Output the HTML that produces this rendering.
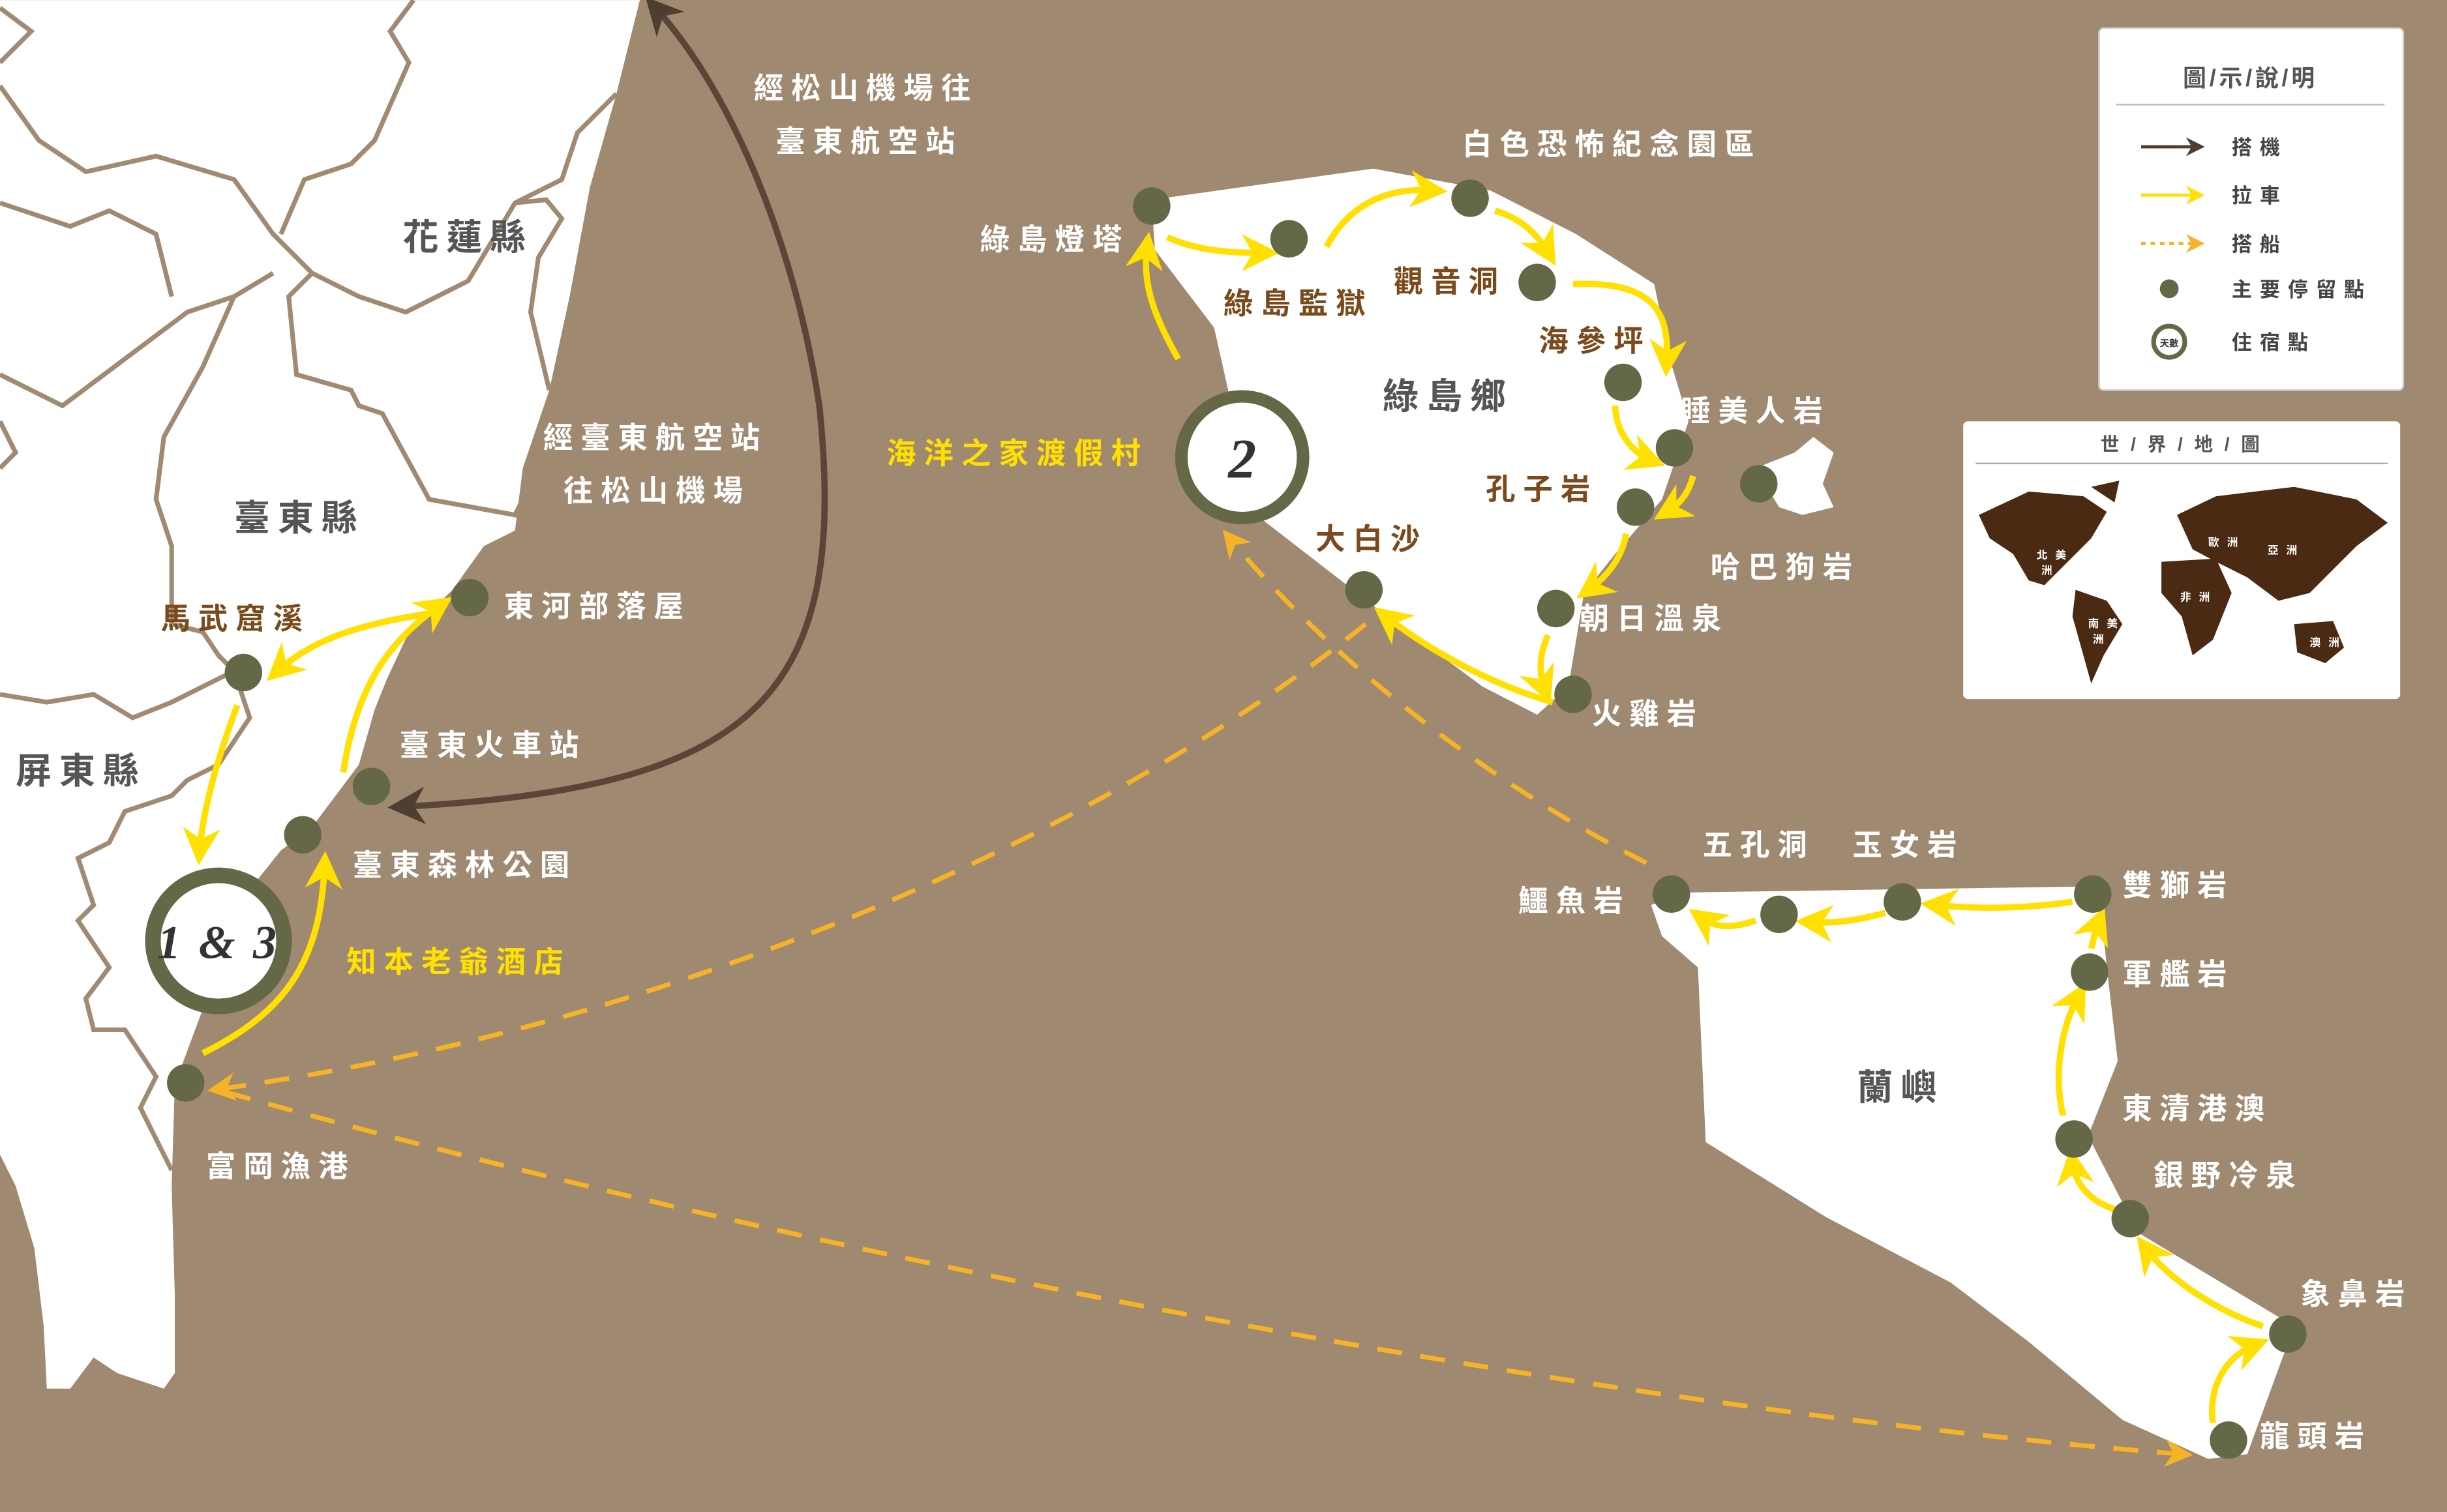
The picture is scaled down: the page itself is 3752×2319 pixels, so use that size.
<!DOCTYPE html>
<html><head><meta charset="utf-8"><style>
html,body{margin:0;padding:0;background:#9f8970;}
svg{display:block}
text{font-family:"Liberation Sans","Noto Sans CJK TC",sans-serif;font-weight:bold;letter-spacing:5px}
</style></head><body>
<svg width="3752" height="2319" viewBox="0 0 1568 969" xmlns="http://www.w3.org/2000/svg">
<defs>
<marker id="ay" viewBox="0 0 10 10" refX="6" refY="5" markerWidth="6" markerHeight="6" orient="auto"><path d="M0,0L10,5L0,10L3,5z" fill="#ffe000"/></marker>
<marker id="ao" viewBox="0 0 10 10" refX="6" refY="5" markerWidth="6" markerHeight="6" orient="auto"><path d="M0,0L10,5L0,10L3,5z" fill="#f7b328"/></marker>
<marker id="ab" viewBox="0 0 10 10" refX="6" refY="5" markerWidth="6" markerHeight="6" orient="auto-start-reverse"><path d="M0,0L10,5L0,10L3,5z" fill="#4e3d31"/></marker>
</defs>
<rect width="1568" height="969" fill="#9f8970"/>
<path d="M0,0 L410,0 L395,60 L378,120 L365,190 L352,250 L335,300 L330,340 L310,350 L290,378 L262,405 L248,435 L240,455 L230,490 L200,530 L180,545 L160,570 L140,620 L125,660 L112,695 L110,760 L112,830 L112,880 L105,890 L75,880 L60,870 L45,890 L30,890 L28,850 L22,800 L10,760 L0,740 Z" fill="#fff"/>
<g fill="none" stroke="#a08a72" stroke-width="3">
<path d="M0,40 L20,20 L0,5"/>
<path d="M0,55 L25,90 L55,110 L100,100 L150,115 L175,150 L200,175 L230,190 L260,200 L300,180 L330,130 L360,115 L370,85 L395,60"/>
<path d="M0,130 L45,145 L70,135 L100,150 L110,190"/>
<path d="M265,0 L250,20 L262,40 L240,90 L225,105 L195,115 L180,150"/>
<path d="M0,240 L40,260 L80,230 L120,200 L150,190 L175,175"/>
<path d="M0,270 L10,290 L0,300"/>
<path d="M200,175 L185,190 L190,240 L225,250 L230,260 L245,265 L275,320 L330,330 L345,300"/>
<path d="M150,190 L130,235 L105,280 L100,320 L110,350 L110,400 L130,405 L140,420 L150,430"/>
<path d="M330,130 L350,128 L360,140 L345,165 L340,200 L352,250"/>
<path d="M0,445 L30,450 L60,445 L85,460 L110,450 L150,430 L160,460 L140,490 L120,500 L110,510 L80,520 L70,540 L50,550 L60,580 L50,590 L70,620 L55,640 L60,660 L80,660 L100,690 L90,710 L110,750"/>
</g>
<path d="M738,128 L880,108 L955,122 L1010,150 L1060,182 L1070,230 L1082,270 L1065,320 L1035,355 L1015,380 L1005,440 L985,458 L950,440 L880,388 L805,330 L778,210 L740,160 Z" fill="#fff"/>
<path d="M1125,300 L1150,290 L1162,280 L1175,290 L1168,310 L1175,325 L1155,330 L1140,325 Z" fill="#fff"/>
<path d="M1058,580 L1080,572 L1345,568 L1350,620 L1357,680 L1338,728 L1370,790 L1470,850 L1440,932 L1415,935 L1360,910 L1300,860 L1250,822 L1170,780 L1093,732 L1088,620 L1065,600 Z" fill="#fff"/>
<path d="M258,517 C480,505 545,450 525,260 C510,160 470,60 420,5" fill="none" stroke="#5a4536" stroke-width="4" marker-end="url(#ab)" marker-start="url(#ab)"/>
<g fill="none" stroke="#f7b328" stroke-width="3" stroke-dasharray="16,12">
<path d="M875,400 C700,540 420,660 140,698" marker-end="url(#ao)"/>
<path d="M1055,553 C950,500 850,420 788,345" marker-end="url(#ao)"/>
<path d="M145,700 C500,800 1000,900 1398,932" marker-end="url(#ao)"/>
</g>
<g fill="none" stroke="#ffe000" stroke-width="4">
<path d="M152,452 C138,490 130,520 128,545" marker-end="url(#ay)"/>
<path d="M130,675 C180,650 205,620 208,555" marker-end="url(#ay)"/>
<path d="M220,495 C228,440 250,410 282,388" marker-end="url(#ay)"/>
<path d="M276,393 C230,400 200,410 178,430" marker-end="url(#ay)"/>
<path d="M755,230 C738,200 732,180 735,158" marker-end="url(#ay)"/>
<path d="M748,152 C770,162 795,162 810,162" marker-end="url(#ay)"/>
<path d="M850,158 C865,130 890,120 918,122" marker-end="url(#ay)"/>
<path d="M958,135 C975,140 985,150 992,162" marker-end="url(#ay)"/>
<path d="M1008,182 C1060,180 1070,200 1068,232" marker-end="url(#ay)"/>
<path d="M1035,260 C1035,275 1045,290 1058,295" marker-end="url(#ay)"/>
<path d="M1085,305 C1082,315 1078,322 1068,328" marker-end="url(#ay)"/>
<path d="M1042,342 C1040,355 1032,368 1018,378" marker-end="url(#ay)"/>
<path d="M992,407 C986,420 986,432 990,442" marker-end="url(#ay)"/>
<path d="M995,450 C960,440 920,420 888,395" marker-end="url(#ay)"/>
<path d="M1328,578 C1300,582 1270,583 1240,580" marker-end="url(#ay)"/>
<path d="M1208,585 C1190,590 1175,592 1160,591" marker-end="url(#ay)"/>
<path d="M1125,590 C1110,595 1100,595 1090,588" marker-end="url(#ay)"/>
<path d="M1340,608 C1342,600 1343,595 1345,590" marker-end="url(#ay)"/>
<path d="M1322,715 C1316,690 1320,660 1332,638" marker-end="url(#ay)"/>
<path d="M1355,775 C1340,770 1330,760 1328,745" marker-end="url(#ay)"/>
<path d="M1450,850 C1420,840 1390,820 1375,800" marker-end="url(#ay)"/>
<path d="M1418,912 C1415,890 1425,870 1445,862" marker-end="url(#ay)"/>
</g>
<g fill="#646846">
<circle cx="156" cy="431" r="12"/><circle cx="301" cy="383" r="12"/><circle cx="238" cy="504" r="12"/><circle cx="194" cy="535" r="12"/><circle cx="119" cy="694" r="12"/>
<circle cx="738" cy="132" r="12"/><circle cx="826" cy="153" r="12"/><circle cx="942" cy="127" r="12"/><circle cx="985" cy="181" r="12"/><circle cx="1040" cy="245" r="12"/><circle cx="1073" cy="287" r="12"/><circle cx="1048" cy="325" r="12"/><circle cx="997" cy="390" r="12"/><circle cx="1008" cy="445" r="12"/><circle cx="874" cy="378" r="12"/><circle cx="1127" cy="310" r="12"/>
<circle cx="1071" cy="573" r="12"/><circle cx="1140" cy="586" r="12"/><circle cx="1219" cy="578" r="12"/><circle cx="1341" cy="573" r="12"/><circle cx="1339" cy="623" r="12"/><circle cx="1329" cy="730" r="12"/><circle cx="1365" cy="781" r="12"/><circle cx="1466" cy="855" r="12"/><circle cx="1428" cy="923" r="12"/>
</g>
<circle cx="140" cy="603" r="42" fill="#fff" stroke="#646846" stroke-width="10"/>
<text x="140" y="614" text-anchor="middle" font-size="30" font-style="italic" fill="#333" style="font-family:'Liberation Serif',serif;letter-spacing:2px">1 &amp; 3</text>
<circle cx="796" cy="293" r="39" fill="#fff" stroke="#646846" stroke-width="8"/>
<text x="796" y="306" text-anchor="middle" font-size="36" font-style="italic" fill="#333" style="font-family:'Liberation Serif',serif;letter-spacing:0">2</text>
<g font-size="23" fill="#555" font-weight="normal" style="letter-spacing:7px">
<text x="258" y="160">花蓮縣</text><text x="150" y="340">臺東縣</text><text x="10" y="502">屏東縣</text><text x="886" y="262">綠島鄉</text><text x="1190" y="705">蘭嶼</text>
</g>
<g font-size="19" fill="#fff">
<text x="483" y="63">經松山機場往</text><text x="497" y="97">臺東航空站</text>
<text x="348" y="287">經臺東航空站</text><text x="361" y="321">往松山機場</text>
<text x="323" y="395">東河部落屋</text><text x="256" y="484">臺東火車站</text><text x="226" y="561">臺東森林公園</text><text x="132" y="754">富岡漁港</text>
<text x="628" y="160">綠島燈塔</text><text x="937" y="99">白色恐怖紀念園區</text><text x="1077" y="270">睡美人岩</text><text x="1096" y="370">哈巴狗岩</text><text x="1012" y="403">朝日溫泉</text><text x="1020" y="464">火雞岩</text>
<text x="1091" y="548">五孔洞</text><text x="1187" y="548">玉女岩</text><text x="973" y="584">鱷魚岩</text><text x="1360" y="574">雙獅岩</text><text x="1360" y="631">軍艦岩</text><text x="1360" y="717">東清港澳</text><text x="1380" y="760">銀野冷泉</text><text x="1474" y="836">象鼻岩</text><text x="1448" y="927">龍頭岩</text>
</g>
<g font-size="19" fill="#7a4a1c">
<text x="103" y="403">馬武窟溪</text><text x="784" y="201">綠島監獄</text><text x="893" y="187">觀音洞</text><text x="986" y="225">海參坪</text><text x="952" y="320">孔子岩</text><text x="843" y="352">大白沙</text>
</g>
<g font-size="19" fill="#ffe000">
<text x="222" y="623">知本老爺酒店</text><text x="568" y="297">海洋之家渡假村</text>
</g>
<rect x="1345" y="18" width="195" height="232" rx="3" fill="#fff" stroke="#ccc"/>
<text x="1442" y="55" text-anchor="middle" font-size="15" fill="#555" font-weight="normal" style="letter-spacing:2px">圖/示/說/明</text>
<line x1="1356" y1="67" x2="1528" y2="67" stroke="#bbb"/>
<line x1="1372" y1="94" x2="1408" y2="94" stroke="#4e3d31" stroke-width="2" marker-end="url(#ab)"/>
<line x1="1372" y1="125" x2="1408" y2="125" stroke="#ffe000" stroke-width="2" marker-end="url(#ay)"/>
<line x1="1372" y1="156" x2="1408" y2="156" stroke="#f7b328" stroke-width="2" stroke-dasharray="3,3" marker-end="url(#ao)"/>
<circle cx="1390" cy="185" r="6" fill="#646846"/>
<circle cx="1390" cy="219" r="10" fill="#fff" stroke="#646846" stroke-width="3"/>
<text x="1390" y="222" text-anchor="middle" font-size="6" fill="#333" style="letter-spacing:0">天數</text>
<g font-size="13" fill="#444" font-weight="normal" style="letter-spacing:1px">
<text x="1430" y="99">搭機</text><text x="1430" y="130">拉車</text><text x="1430" y="161">搭船</text><text x="1430" y="190">主要停留點</text><text x="1430" y="224">住宿點</text>
</g>
<rect x="1258" y="270" width="280" height="178" rx="3" fill="#fff"/>
<text x="1398" y="289" text-anchor="middle" font-size="12" fill="#555" font-weight="normal" style="letter-spacing:2px">世 / 界 / 地 / 圖</text>
<line x1="1266" y1="297" x2="1530" y2="297" stroke="#aaa"/>
<g fill="#4a2a12">
<path d="M1268,330 L1300,315 L1335,318 L1350,328 L1340,345 L1325,360 L1310,375 L1300,372 L1290,355 L1275,345 Z"/>
<path d="M1330,378 L1350,385 L1360,400 L1348,420 L1340,438 L1335,420 L1328,395 Z"/>
<path d="M1395,330 L1420,318 L1470,312 L1510,320 L1530,335 L1510,350 L1495,365 L1480,380 L1460,385 L1440,370 L1420,360 L1405,352 Z"/>
<path d="M1385,360 L1420,358 L1430,380 L1418,410 L1405,420 L1398,395 L1385,380 Z"/>
<path d="M1470,400 L1495,398 L1502,415 L1490,425 L1472,418 Z"/>
<path d="M1340,312 L1358,308 L1355,322 Z"/>
</g>
<g font-size="7" fill="#fff" font-weight="normal" style="letter-spacing:0">
<text x="1305" y="358">北美</text><text x="1308" y="368">洲</text><text x="1338" y="402">南美</text><text x="1341" y="412">洲</text><text x="1415" y="350">歐洲</text><text x="1453" y="355">亞洲</text><text x="1397" y="385">非洲</text><text x="1480" y="414">澳洲</text>
</g>
</svg>
</body></html>
